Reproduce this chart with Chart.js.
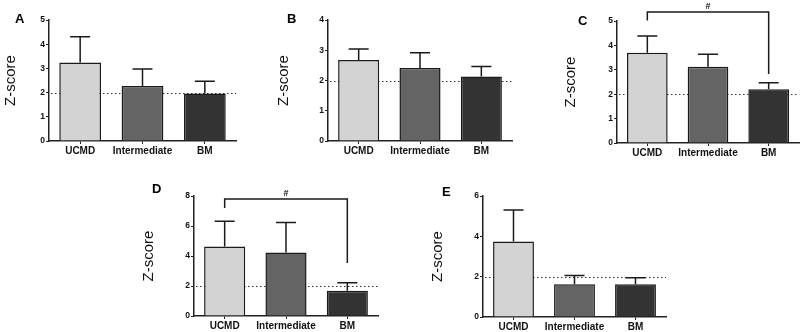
<!DOCTYPE html>
<html>
<head>
<meta charset="utf-8">
<script src="https://cdn.jsdelivr.net/npm/chart.js@4.4.0/dist/chart.umd.min.js"></script>
<style>
body { margin: 0; background: #fff; width: 800px; height: 332px; position: relative; overflow: hidden; font-family: "Liberation Sans", Arial, sans-serif; }
.panel { position: absolute; }
.letter { position: absolute; font-weight: bold; font-size: 13px; line-height: 1; color: #000; }
</style>
</head>
<body>
<div class="panel" style="left:0px;top:0px"><canvas id="chartA" width="255" height="165"></canvas></div>
<div class="panel" style="left:270px;top:0px"><canvas id="chartB" width="255" height="165"></canvas></div>
<div class="panel" style="left:550px;top:0px"><canvas id="chartC" width="250" height="165"></canvas></div>
<div class="panel" style="left:130px;top:175px"><canvas id="chartD" width="260" height="157"></canvas></div>
<div class="panel" style="left:420px;top:175px"><canvas id="chartE" width="260" height="157"></canvas></div>

<div class="letter" style="left:15px;top:12px">A</div>
<div class="letter" style="left:287px;top:12px">B</div>
<div class="letter" style="left:578px;top:14px">C</div>
<div class="letter" style="left:152px;top:182px">D</div>
<div class="letter" style="left:442px;top:185px">E</div>

<script>
const categories = ['UCMD', 'Intermediate', 'BM'];
const barColors = ['#d3d3d3', '#646464', '#333333'];

// mean Z-score and SEM per group
const meanA = [3.24, 2.27, 1.96];
const semA  = [1.07, 0.71, 0.51];
const meanB = [2.68, 2.41, 2.13];
const semB  = [0.36, 0.51, 0.33];
const meanC = [3.70, 3.13, 2.20];
const semC  = [0.69, 0.51, 0.27];
const meanD = [4.63, 4.24, 1.68];
const semD  = [1.68, 1.99, 0.53];
const meanE = [3.75, 1.62, 1.62];
const semE  = [1.55, 0.44, 0.33];

const refLine = 2;
// significance bracket UCMD vs BM: top, left leg end, right leg end (Z-score units)
const bracketC = [5.37, 5.02, 2.83];
const bracketD = [7.8, 7.2, 3.53];

const FONT = '"Liberation Sans", Arial, sans-serif';

function makeChart(id, mean, sem, yMax, step, L, bracket) {
    const extras = {
        id: 'extras_' + id,
        beforeDatasetsDraw(chart) {
            const ctx = chart.ctx;
            const area = chart.chartArea;
            const yy = Math.round(chart.scales.y.getPixelForValue(refLine)) + 0.5;
            ctx.save();
            ctx.strokeStyle = '#333';
            ctx.lineWidth = 1;
            ctx.setLineDash([1.5, 2.5]);
            ctx.beginPath();
            ctx.moveTo(area.left + 2, yy);
            ctx.lineTo(area.right, yy);
            ctx.stroke();
            ctx.restore();
        },
        afterDatasetsDraw(chart) {
            const ctx = chart.ctx;
            const y = chart.scales.y;
            const meta = chart.getDatasetMeta(0);
            ctx.save();
            ctx.strokeStyle = '#1a1a1a';
            ctx.lineWidth = 1.5;
            meta.data.forEach((bar, i) => {
                const top = y.getPixelForValue(mean[i] + sem[i]);
                ctx.beginPath();
                ctx.moveTo(bar.x, bar.y);
                ctx.lineTo(bar.x, top);
                ctx.moveTo(bar.x - 10, top);
                ctx.lineTo(bar.x + 10, top);
                ctx.stroke();
            });
            ctx.restore();
        },
        afterDraw(chart) {
            if (!bracket) return;
            const ctx = chart.ctx;
            const y = chart.scales.y;
            const meta = chart.getDatasetMeta(0);
            const x0 = meta.data[0].x, x1 = meta.data[2].x;
            const top = y.getPixelForValue(bracket[0]);
            ctx.save();
            ctx.strokeStyle = '#1a1a1a';
            ctx.lineWidth = 1.5;
            ctx.beginPath();
            ctx.moveTo(x0, y.getPixelForValue(bracket[1]));
            ctx.lineTo(x0, top);
            ctx.lineTo(x1, top);
            ctx.lineTo(x1, y.getPixelForValue(bracket[2]));
            ctx.stroke();
            ctx.fillStyle = '#111';
            ctx.font = 'bold 9px ' + FONT;
            ctx.textAlign = 'center';
            ctx.textBaseline = 'bottom';
            ctx.fillText('#', (x0 + x1) / 2, top - 1);
            ctx.restore();
        }
    };

    new Chart(document.getElementById(id), {
        type: 'bar',
        data: {
            labels: categories,
            datasets: [{
                data: mean,
                backgroundColor: barColors,
                borderColor: '#1a1a1a',
                borderWidth: 1.5,
                barPercentage: 0.67,
                categoryPercentage: 1
            }]
        },
        options: {
            responsive: false,
            animation: false,
            devicePixelRatio: 1,
            layout: { padding: { left: 0, top: L.pt, right: L.pr, bottom: 0 } },
            plugins: { legend: { display: false }, tooltip: { enabled: false } },
            scales: {
                x: {
                    offset: true,
                    grid: { drawOnChartArea: false, drawTicks: true, tickLength: 3, offset: false, color: '#222' },
                    border: { display: true, color: '#222', width: 1.5 },
                    ticks: { color: '#111', font: { family: FONT, size: 10, weight: 'bold' }, padding: 1, maxRotation: 0, autoSkip: false },
                    afterFit: s => { s.height = L.xh; }
                },
                y: {
                    min: 0,
                    max: yMax,
                    ticks: { stepSize: step, color: '#111', font: { family: FONT, size: 8.5, weight: 'bold' }, padding: 1 },
                    grid: { drawOnChartArea: false, drawTicks: true, tickLength: 3, color: '#222' },
                    border: { display: true, color: '#222', width: 1.5 },
                    title: { display: true, text: 'Z-score', color: '#111', font: { family: FONT, size: 15 }, padding: { top: L.tp, bottom: 0 } },
                    afterFit: s => { s.width = L.yw; }
                }
            }
        },
        plugins: [extras]
    });
}

makeChart('chartA', meanA, semA, 5, 1, { pt: 20, pr: 19, xh: 24, yw: 49, tp: 1.6 });
makeChart('chartB', meanB, semB, 4, 1, { pt: 20, pr: 13, xh: 24, yw: 58, tp: 4.6 });
makeChart('chartC', meanC, semC, 5, 1, { pt: 21, pr: 1, xh: 22, yw: 67, tp: 11.6 }, bracketC);
makeChart('chartD', meanD, semD, 8, 2, { pt: 21, pr: 12, xh: 16, yw: 64, tp: 9.6 }, bracketD);
makeChart('chartE', meanE, semE, 6, 2, { pt: 21, pr: 14, xh: 15, yw: 63, tp: 8.6 });
</script>
</body>
</html>
